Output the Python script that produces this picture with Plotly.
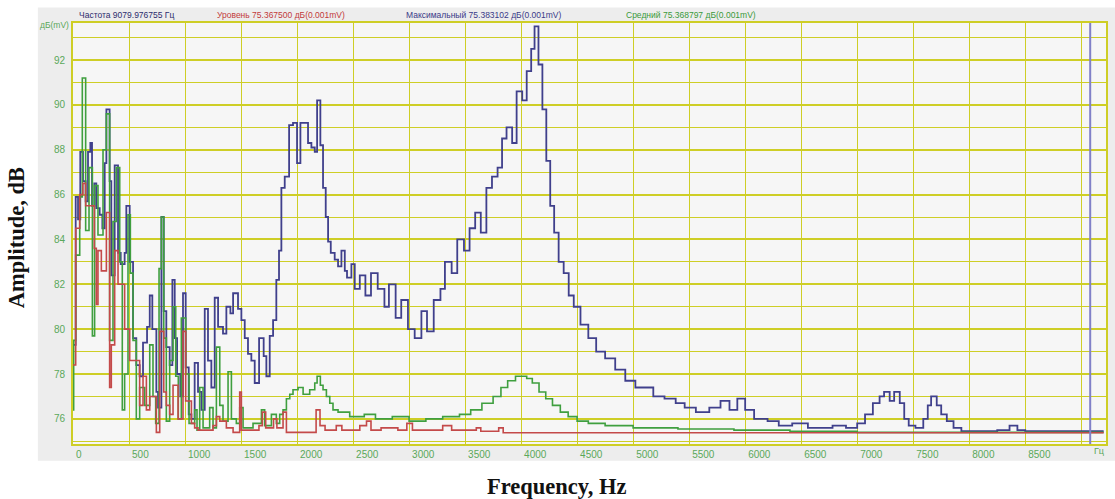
import plotly.graph_objects as go

# Spectrum traces stored as step breakpoints: level holds from each frequency to the next
max_freq = [0, 24, 45, 65, 89, 113, 134, 155, 170, 190, 208, 238, 262, 283, 298, 327, 342, 372,
            402, 426, 461, 476, 506, 536, 565, 595, 625, 661, 685, 708, 744, 759, 789, 810, 833,
            863, 887, 908, 929, 958, 982, 1006, 1033, 1057, 1086, 1116, 1146, 1176, 1205, 1235,
            1265, 1295, 1339, 1369, 1405, 1429, 1473, 1503, 1533, 1562, 1592, 1622, 1661, 1702,
            1726, 1756, 1786, 1815, 1839, 1860, 1890, 1929, 1964, 2000, 2030, 2098, 2128, 2158,
            2179, 2208, 2232, 2256, 2277, 2301, 2336, 2366, 2396, 2426, 2446, 2485, 2515, 2560,
            2610, 2660, 2720, 2780, 2820, 2880, 2930, 2990, 3050, 3110, 3160, 3220, 3280, 3320,
            3380, 3430, 3490, 3540, 3590, 3640, 3690, 3740, 3790, 3830, 3870, 3920, 3960, 4010,
            4050, 4090, 4120, 4155, 4190, 4225, 4260, 4295, 4335, 4380, 4425, 4470, 4530, 4600,
            4670, 4750, 4840, 4930, 5020, 5180, 5280, 5380, 5460, 5560, 5680, 5780, 5860, 5930,
            6000, 6080, 6200, 6300, 6420, 6560, 6780, 6900, 7000, 7070, 7140, 7200, 7240, 7290,
            7330, 7380, 7420, 7460, 7520, 7590, 7630, 7660, 7710, 7750, 7800, 7860, 7930, 8250,
            8360, 8430, 8500, 9200]
max_level = [79.3, 85.9, 84.9, 87.9, 86.6, 85.7, 87.9, 88.3, 85.5, 86.5, 85.4, 85.1, 84.5, 87.4,
             89.8, 86.6, 82.4, 87.3, 83.4, 82.9, 83.4, 85.5, 83.0, 79.6, 78.4, 77.9, 79.4, 80.1,
             81.5, 80.0, 77.2, 76.5, 85.0, 80.8, 79.2, 78.4, 82.2, 79.6, 78.0, 77.0, 81.6, 78.3,
             76.2, 76.0, 78.5, 77.2, 76.4, 80.9, 78.6, 77.4, 81.4, 80.1, 79.8, 81.0, 80.7, 81.6,
             80.9, 80.4, 79.6, 78.9, 78.6, 77.6, 79.6, 78.8, 77.9, 79.7, 80.4, 82.2, 83.5, 86.3,
             86.8, 89.1, 89.2, 87.4, 89.2, 88.3, 88.1, 87.9, 90.2, 88.2, 86.3, 85.0, 83.9, 83.4,
             83.1, 82.8, 83.5, 82.6, 82.3, 82.9, 81.8, 82.4, 81.5, 82.5, 81.8, 81.0, 82.0, 80.5,
             81.3, 80.0, 79.6, 80.8, 79.9, 81.3, 81.8, 83.0, 82.5, 84.0, 83.5, 84.5, 85.2, 84.3,
             86.3, 86.8, 87.2, 88.5, 89.0, 88.3, 90.6, 90.2, 91.5, 92.5, 93.5, 91.8, 89.8, 87.5,
             85.5, 84.3, 83.0, 82.5, 81.5, 81.0, 80.2, 79.6, 79.0, 78.7, 78.2, 77.7, 77.4, 77.0,
             76.9, 76.7, 76.5, 76.3, 76.5, 76.8, 76.4, 76.9, 76.4, 76.0, 75.9, 75.7, 75.8, 75.6,
             75.7, 75.6, 75.8, 76.2, 76.7, 77.0, 77.2, 76.8, 77.2, 76.7, 76.0, 75.7, 75.6, 76.0,
             76.6, 77.0, 76.6, 76.2, 75.9, 75.6, 75.45, 75.5, 75.7, 75.5, 75.45, 75.45]

avg_freq = [0, 6, 24, 60, 83, 113, 143, 173, 193, 223, 268, 298, 327, 357, 387, 417, 440, 461,
            491, 512, 536, 565, 595, 640, 685, 714, 738, 768, 789, 810, 833, 863, 893, 917, 940,
            967, 1006, 1036, 1086, 1107, 1131, 1161, 1220, 1250, 1280, 1310, 1339, 1384, 1414,
            1458, 1488, 1518, 1607, 1682, 1711, 1771, 1815, 1845, 1875, 1905, 1935, 1964, 2009,
            2054, 2113, 2158, 2179, 2208, 2232, 2262, 2292, 2321, 2366, 2470, 2600, 2700, 2850,
            3000, 3150, 3300, 3450, 3550, 3650, 3750, 3820, 3880, 3950, 4050, 4100, 4160, 4220,
            4280, 4350, 4420, 4500, 4600, 4750, 5000, 5400, 5900, 6400, 7000, 9200]
avg_level = [76.4, 79.5, 83.3, 85.9, 91.2, 84.4, 87.2, 79.7, 86.4, 84.2, 88.0, 89.6, 79.5, 84.8,
             87.2, 83.0, 76.4, 78.0, 85.1, 82.5, 79.5, 76.0, 77.4, 76.6, 79.3, 77.0, 75.8, 82.7,
             85.0, 79.6, 75.9, 78.6, 81.0, 77.9, 76.0, 80.5, 78.0, 75.8, 76.4, 75.5, 77.4, 75.6,
             76.5, 75.6, 79.2, 76.6, 75.9, 78.1, 76.0, 75.8, 76.5, 75.6, 75.8, 76.4, 75.7, 76.2,
             75.8, 76.2, 76.4, 76.9, 77.1, 77.3, 77.4, 77.1, 77.3, 77.6, 77.9, 77.5, 77.3, 77.0,
             76.7, 76.4, 76.3, 76.1, 76.2, 76.0, 76.1, 75.9, 76.0, 76.1, 76.2, 76.4, 76.7, 77.0,
             77.4, 77.7, 77.9, 77.8, 77.6, 77.2, 76.9, 76.6, 76.3, 76.1, 75.9, 75.8, 75.7, 75.6,
             75.55, 75.5, 75.45, 75.4, 75.4]

cur_freq = [0, 24, 60, 89, 113, 190, 208, 223, 253, 298, 327, 342, 372, 402, 461, 506, 565, 595,
            625, 655, 685, 744, 774, 810, 833, 863, 893, 938, 982, 1006, 1057, 1086, 1116, 1250,
            1280, 1310, 1369, 1429, 1488, 1503, 1660, 1690, 1720, 1790, 1820, 1875, 1905, 2170,
            2205, 2250, 2350, 2400, 2560, 2620, 2660, 2750, 2900, 2980, 3030, 3300, 3380, 3600,
            3640, 3800, 3840, 9200]
cur_level = [78.4, 84.5, 86.0, 86.5, 85.5, 83.6, 81.1, 83.5, 82.6, 85.2, 77.4, 79.3, 83.5, 82.0,
             80.0, 78.6, 78.6, 76.6, 77.9, 76.4, 77.0, 75.4, 79.9, 77.2, 76.6, 76.2, 77.5, 76.0,
             79.9, 76.8, 75.8, 75.6, 75.5, 75.7, 76.1, 75.9, 75.6, 75.4, 77.2, 75.5, 75.7, 76.3,
             75.6, 76.0, 75.6, 76.3, 75.4, 76.4, 75.7, 75.5, 75.7, 75.5, 75.7, 75.9, 75.5, 75.6,
             75.5, 75.8, 75.5, 75.7, 75.5, 75.6, 75.45, 75.6, 75.38, 75.38]

y_ticks = [76, 78, 80, 82, 84, 86, 88, 90, 92]
x_ticks = [0, 500, 1000, 1500, 2000, 2500, 3000, 3500, 4000, 4500, 5000, 5500, 6000, 6500,
           7000, 7500, 8000, 8500]
cursor_freq = 9079.976755

header = [
    ("Частота 9079.976755 Гц", "#2c2c6e", 0.0035),
    ("Уровень 75.367500 дБ(0.001mV)", "#c23a3a", 0.137),
    ("Максимальный 75.383102 дБ(0.001mV)", "#3a3a88", 0.320),
    ("Средний 75.368797 дБ(0.001mV)", "#3a9a3a", 0.533),
]

GRID = "#cece26"
TICK = "#5aa85a"
small_font = "Liberation Sans Narrow, Arial Narrow, Liberation Sans, Arial"
serif = "Liberation Serif, Times New Roman, serif"

fig = go.Figure()
fig.add_trace(go.Scatter(x=max_freq, y=max_level, mode="lines", line_shape="hv",
                         line=dict(color="#40408c", width=1.8), hoverinfo="skip"))
fig.add_trace(go.Scatter(x=avg_freq, y=avg_level, mode="lines", line_shape="hv",
                         line=dict(color="#3f9f3f", width=1.6), hoverinfo="skip"))
fig.add_trace(go.Scatter(x=cur_freq, y=cur_level, mode="lines", line_shape="hv",
                         line=dict(color="#c44a4a", width=1.6), hoverinfo="skip"))

# gray instrument panel around the plot area, lighter plot field, and the frequency cursor
fig.add_shape(type="rect", xref="paper", yref="paper", x0=-0.034, x1=1.01, y0=-0.04, y1=1.037,
              fillcolor="#ededed", line=dict(width=0), layer="below")
fig.add_shape(type="rect", xref="paper", yref="paper", x0=0, x1=1, y0=0, y1=1,
              fillcolor="#f6f6f6", line=dict(width=0), layer="below")
fig.add_shape(type="line", xref="x", yref="paper", x0=cursor_freq, x1=cursor_freq, y0=0, y1=1,
              line=dict(color="#8080c8", width=2))

for text, color, xpos in header:
    fig.add_annotation(text=text, xref="paper", yref="paper", x=xpos, y=1.019,
                       xanchor="left", yanchor="middle", showarrow=False,
                       font=dict(family=small_font, size=8.5, color=color))
fig.add_annotation(text="дБ(mV)", xref="paper", yref="paper", x=-0.002, y=0.995,
                   xanchor="right", yanchor="middle", showarrow=False,
                   font=dict(family=small_font, size=8.5, color=TICK))
fig.add_annotation(text="Гц", xref="paper", yref="paper", x=1.0, y=-0.017,
                   xanchor="right", yanchor="middle", showarrow=False,
                   font=dict(family=small_font, size=9, color=TICK))
fig.add_annotation(text="<b>Frequency, Hz</b>", xref="paper", yref="paper", x=0.4686, y=-0.10,
                   xanchor="center", yanchor="middle", showarrow=False,
                   font=dict(family=serif, size=22.5, color="#111"))
fig.add_annotation(text="<b>Amplitude, dB</b>", xref="paper", yref="paper", x=-0.055, y=0.489,
                   xanchor="center", yanchor="middle", showarrow=False, textangle=-90,
                   font=dict(family=serif, size=22.5, color="#111"))

fig.update_layout(
    width=1115, height=499,
    margin=dict(l=73, r=7, t=23, b=55),
    paper_bgcolor="white", plot_bgcolor="#f6f6f6",
    showlegend=False,
    xaxis=dict(range=[0, 9221], tickvals=x_ticks, ticktext=[str(v) for v in x_ticks],
               showgrid=True, gridcolor=GRID, gridwidth=1.3, zeroline=False,
               minor=dict(dtick=500, tick0=0, showgrid=True, gridcolor=GRID, gridwidth=1.3),
               showline=True, mirror=True, linecolor=GRID, linewidth=2,
               ticks="", ticklabelposition="outside right", ticklabelshift=2,
               tickfont=dict(family=small_font, size=10, color=TICK)),
    yaxis=dict(range=[74.88, 93.65], tickvals=y_ticks,
               showgrid=True, gridcolor=GRID, gridwidth=1.8, zeroline=False,
               minor=dict(dtick=1, tick0=75, showgrid=True, gridcolor=GRID, gridwidth=1.2),
               showline=True, mirror=True, linecolor=GRID, linewidth=2,
               ticks="", ticklabelstandoff=4,
               tickfont=dict(family=small_font, size=10, color=TICK)),
)

fig.write_html("out.html")
